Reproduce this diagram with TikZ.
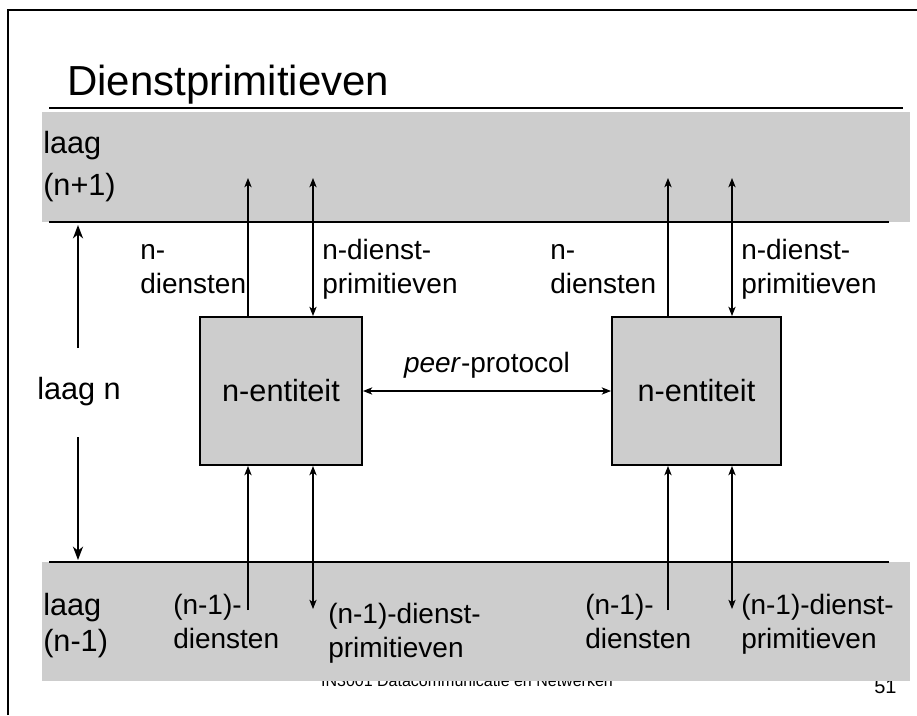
\documentclass[tikz,border=0pt]{standalone}
\usepackage{fontspec}
\setmainfont{Liberation Sans}
\usetikzlibrary{arrows.meta}
\definecolor{capagris}{HTML}{CDCDCD}
\tikzset{
  linea/.style={line width=1.8pt},
  entidad/.style={draw, line width=1.5pt, fill=capagris, minimum height=111pt,
    font=\fontsize{23}{27}\selectfont},
  etiq/.style={anchor=base west, align=left, inner sep=0pt, font=\fontsize{21}{25}\selectfont},
  flecha/.style={-{Stealth[length=7pt,width=5.5pt,inset=2pt]}, line width=0.8pt},
  flechados/.style={{Stealth[length=7pt,width=5.5pt,inset=2pt]}-{Stealth[length=7pt,width=5.5pt,inset=2pt]}, line width=0.8pt},
  flechagruesa/.style={-{Stealth[length=10pt,width=7.5pt,inset=3pt]}, line width=1.5pt},
}

\begin{document}
\begin{tikzpicture}[x=0.75pt,y=-0.75pt]
  \useasboundingbox (0,0) rectangle (917,715);
  % Marco
  \draw[line width=1.5pt] (8,715) -- (8,10) -- (917,10);
  % Pie
  \node[anchor=base, font=\fontsize{12}{14}\selectfont] (pie) at (467,686) {IN3001 Datacommunicatie en Netwerken};
  \node[anchor=base west, inner sep=0pt, font=\fontsize{15}{17}\selectfont] (num) at (874,693) {51};
  % Capas
  \fill[capagris] (42,112) rectangle (910,222);
  \fill[capagris] (42,562) rectangle (910,681);
  \draw[linea] (49,108) -- (903,108);
  \draw[linea] (49,222) -- (889,222);
  \draw[linea] (49,562) -- (889,562);
  % Titulo
  \node[anchor=base west, inner sep=0pt, font=\fontsize{31.5}{36}\selectfont] (titulo) at (67,95) {Dienstprimitieven};
  \node[anchor=base west, align=left, inner sep=0pt, font=\fontsize{23}{31.5}\selectfont] (boven) at (43,195) {laag\\(n+1)};
  \node[anchor=base west, inner sep=0pt, font=\fontsize{23}{27}\selectfont] (laagn) at (37,399) {laag n};
  \node[anchor=base west, align=left, inner sep=0pt, font=\fontsize{23}{26.5}\selectfont] (onder) at (43,651) {laag\\(n-1)};
  % Flechas de la capa
  \coordinate (ln1) at (78,225);
  \coordinate (ln2) at (78,348);
  \coordinate (ln3) at (78,437);
  \coordinate (ln4) at (78,560);
  \draw[flechagruesa] (ln2) -- (ln1);
  \draw[flechagruesa] (ln3) -- (ln4);
  % Entidades
  \node[entidad, minimum width=121.5pt] (e1) at (281,391) {n-entiteit};
  \node[entidad, minimum width=126.75pt] (e2) at (696.5,391) {n-entiteit};
  \draw[flechados] (e1.east) -- (e2.west);
  \node[anchor=base] (peer) at (487,372) {\fontsize{21}{25}\selectfont\textit{peer}-protocol};
  % Etiquetas
  \node[etiq] (d1) at (140,293) {n-\\diensten};
  \node[etiq] (p1) at (322,293) {n-dienst-\\primitieven};
  \node[etiq] (d2) at (550,293) {n-\\diensten};
  \node[etiq] (p2) at (741,293) {n-dienst-\\primitieven};
  \node[etiq] (od1) at (173,648) {(n-1)-\\diensten};
  \node[etiq] (op1) at (328,657) {(n-1)-dienst-\\primitieven};
  \node[etiq] (od2) at (585,648) {(n-1)-\\diensten};
  \node[etiq] (op2) at (741,648) {(n-1)-dienst-\\primitieven};
  % Diensten en primitieven
  \foreach \e/\xa/\xb in {e1/248/313, e2/668/732}{
    \coordinate (\e a) at (\xa,178);
    \coordinate (\e b) at (\xb,178);
    \coordinate (\e c) at (\xa,610);
    \coordinate (\e d) at (\xb,609);
    \draw[flecha] (\e a |- \e.north) -- (\e a);
    \draw[flechados] (\e b) -- (\e b |- \e.north);
    \draw[flecha] (\e c) -- (\e c |- \e.south);
    \draw[flechados] (\e d) -- (\e d |- \e.south);
  }
\end{tikzpicture}
\end{document}
